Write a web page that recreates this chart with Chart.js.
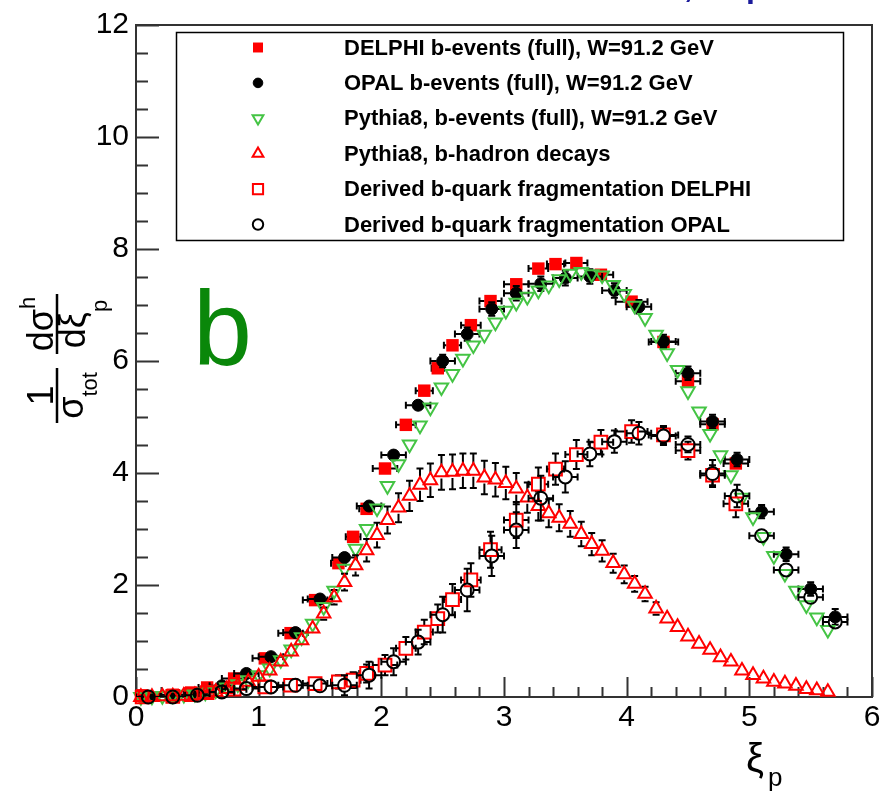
<!DOCTYPE html>
<html>
<head>
<meta charset="utf-8">
<title>xi_p distributions, b events</title>
<script src="https://cdn.jsdelivr.net/npm/chart.js@4.4.1/dist/chart.umd.min.js"></script>
<style>
  html, body { margin: 0; padding: 0; background: #fff; }
  canvas { display: block; }
</style>
</head>
<body>
<canvas id="xiplot" width="890" height="793"></canvas>
<script>
// ---- data ----
const xTickLabels = ['0', '1', '2', '3', '4', '5', '6'];
const yTickLabels = ['0', '2', '4', '6', '8', '10', '12'];

const legendLabels = [
    'DELPHI b-events (full), W=91.2 GeV',
    'OPAL b-events (full), W=91.2 GeV',
    'Pythia8, b-events (full), W=91.2 GeV',
    'Pythia8, b-hadron decays',
    'Derived b-quark fragmentation DELPHI',
    'Derived b-quark fragmentation OPAL'
];

// Pythia8 bin centres
const pythiaX = [0.04, 0.13, 0.215, 0.30, 0.39, 0.48, 0.565, 0.65, 0.74, 0.83,
    0.915, 1.00, 1.09, 1.18, 1.265, 1.35, 1.44, 1.53, 1.615, 1.70,
    1.79, 1.88, 1.965, 2.05, 2.14, 2.23, 2.315, 2.40, 2.49, 2.58,
    2.665, 2.75, 2.84, 2.93, 3.015, 3.10, 3.19, 3.28, 3.365, 3.45,
    3.54, 3.63, 3.715, 3.80, 3.89, 3.98, 4.065, 4.15, 4.24, 4.33,
    4.415, 4.50, 4.59, 4.68, 4.765, 4.85, 4.94, 5.03, 5.115, 5.20,
    5.29, 5.38, 5.465, 5.55, 5.64];
const pythiaFull = [0.00, 0.01, 0.02, 0.03, 0.04, 0.06, 0.08, 0.12, 0.17, 0.23,
    0.30, 0.39, 0.51, 0.66, 0.85, 1.07, 1.31, 1.61, 1.90, 2.29,
    2.65, 3.00, 3.37, 3.77, 4.16, 4.51, 4.85, 5.17, 5.53, 5.77,
    6.04, 6.28, 6.47, 6.69, 6.90, 7.04, 7.15, 7.26, 7.35, 7.46,
    7.56, 7.59, 7.55, 7.53, 7.36, 7.20, 6.99, 6.77, 6.47, 6.14,
    5.84, 5.46, 5.10, 4.70, 4.32, 3.96, 3.56, 3.21, 2.86, 2.52,
    2.20, 1.90, 1.64, 1.42, 1.20];
const pythiaHadron = [0.00, 0.00, 0.01, 0.01, 0.02, 0.03, 0.05, 0.09, 0.14, 0.20,
    0.27, 0.36, 0.47, 0.63, 0.81, 1.01, 1.22, 1.49, 1.78, 2.05,
    2.35, 2.62, 2.89, 3.16, 3.38, 3.59, 3.79, 3.87, 4.01, 4.02,
    4.04, 4.04, 3.92, 3.88, 3.82, 3.72, 3.56, 3.41, 3.28, 3.20,
    3.09, 2.91, 2.73, 2.61, 2.39, 2.19, 2.02, 1.84, 1.58, 1.40,
    1.25, 1.08, 0.95, 0.84, 0.71, 0.63, 0.47, 0.39, 0.33, 0.27,
    0.24, 0.20, 0.14, 0.12, 0.09];
const pythiaHadronErr = [0, 0, 0, 0, 0, 0, 0, 0.01, 0.01, 0.02,
    0.02, 0.03, 0.04, 0.05, 0.06, 0.08, 0.09, 0.11, 0.13, 0.15,
    0.18, 0.20, 0.22, 0.24, 0.26, 0.27, 0.29, 0.30, 0.31, 0.31,
    0.31, 0.31, 0.30, 0.30, 0.29, 0.28, 0.27, 0.26, 0.25, 0.24,
    0.23, 0.22, 0.20, 0.19, 0.17, 0.16, 0.14, 0.13, 0.11, 0.10,
    0.09, 0.08, 0.07, 0.06, 0.05, 0.04, 0.03, 0.03, 0.02, 0.02,
    0.02, 0.01, 0.01, 0.01, 0.01];

// DELPHI bins
const delphiX = [0.05, 0.30, 0.45, 0.58, 0.80, 1.05, 1.26, 1.46, 1.65, 1.77,
    1.88, 2.03, 2.20, 2.35, 2.46, 2.58, 2.73, 2.89, 3.10, 3.28,
    3.42, 3.59, 3.79, 4.04, 4.30, 4.50, 4.70, 4.89];
const delphiXErr = [0.05, 0.10, 0.06, 0.07, 0.10, 0.10, 0.10, 0.10, 0.06, 0.06,
    0.06, 0.10, 0.08, 0.07, 0.05, 0.07, 0.08, 0.09, 0.10, 0.08,
    0.07, 0.09, 0.10, 0.13, 0.12, 0.10, 0.10, 0.10];
const delphiFull = [0.03, 0.04, 0.08, 0.17, 0.33, 0.69, 1.14, 1.73, 2.39, 2.86,
    3.36, 4.08, 4.86, 5.47, 5.87, 6.28, 6.64, 7.07, 7.37, 7.65,
    7.73, 7.75, 7.54, 7.06, 6.34, 5.64, 4.87, 4.17];
const delphiFullErr = [0.01, 0.01, 0.02, 0.03, 0.04, 0.06, 0.07, 0.08, 0.08, 0.08,
    0.09, 0.10, 0.10, 0.10, 0.10, 0.10, 0.10, 0.10, 0.10, 0.10,
    0.10, 0.10, 0.10, 0.10, 0.10, 0.10, 0.10, 0.10];
const delphiFrag = [0.00, 0.01, 0.04, 0.08, 0.14, 0.18, 0.21, 0.24, 0.27, 0.30,
    0.42, 0.57, 0.87, 1.16, 1.40, 1.74, 2.09, 2.63, 3.16, 3.80,
    4.07, 4.33, 4.55, 4.74, 4.68, 4.40, 3.96, 3.45];
const delphiFragErr = [0.01, 0.01, 0.02, 0.04, 0.05, 0.07, 0.08, 0.10, 0.12, 0.14,
    0.16, 0.18, 0.20, 0.22, 0.25, 0.28, 0.30, 0.32, 0.32, 0.30,
    0.28, 0.26, 0.22, 0.20, 0.16, 0.16, 0.18, 0.24];

// OPAL bins
const opalX = [0.1, 0.3, 0.5, 0.7, 0.9, 1.1, 1.3, 1.5, 1.7, 1.9,
    2.1, 2.3, 2.5, 2.7, 2.9, 3.1, 3.3, 3.5, 3.7, 3.9,
    4.1, 4.3, 4.5, 4.7, 4.9, 5.1, 5.3, 5.5, 5.7];
const opalXErr = [0.1, 0.1, 0.1, 0.1, 0.1, 0.1, 0.1, 0.1, 0.1, 0.1,
    0.1, 0.1, 0.1, 0.1, 0.1, 0.1, 0.1, 0.1, 0.1, 0.1,
    0.1, 0.1, 0.1, 0.1, 0.1, 0.1, 0.1, 0.1, 0.1];
const opalFull = [0.01, 0.01, 0.05, 0.20, 0.42, 0.72, 1.15, 1.75, 2.49, 3.41,
    4.32, 5.21, 6.00, 6.48, 6.93, 7.21, 7.38, 7.48, 7.51, 7.26,
    6.97, 6.35, 5.78, 4.92, 4.24, 3.31, 2.55, 1.93, 1.43];
const opalFullErr = [0.01, 0.01, 0.02, 0.03, 0.04, 0.05, 0.06, 0.07, 0.08, 0.09,
    0.10, 0.10, 0.11, 0.12, 0.12, 0.13, 0.13, 0.13, 0.13, 0.13,
    0.12, 0.12, 0.12, 0.12, 0.12, 0.12, 0.12, 0.12, 0.14];
const opalFrag = [0.00, 0.00, 0.03, 0.09, 0.15, 0.18, 0.21, 0.20, 0.21, 0.39,
    0.63, 0.98, 1.47, 1.91, 2.52, 2.98, 3.55, 3.93, 4.34, 4.56,
    4.71, 4.66, 4.51, 3.99, 3.59, 2.88, 2.27, 1.78, 1.34];
const opalFragErr = [0.01, 0.01, 0.02, 0.04, 0.06, 0.08, 0.09, 0.10, 0.18, 0.24,
    0.24, 0.22, 0.32, 0.38, 0.36, 0.32, 0.40, 0.28, 0.22, 0.20,
    0.20, 0.16, 0.14, 0.24, 0.20, 0.10, 0.08, 0.08, 0.10];

// ---- helpers ----
const FONT = '"Liberation Sans", Arial, Helvetica, sans-serif';
Chart.defaults.font.family = FONT;

function points(xs, ys, exs, eys) {
    return xs.map((x, i) => ({
        x: x,
        y: ys[i],
        ex: exs ? exs[i] : 0,
        ey: eys ? eys[i] : 0
    }));
}

function isWhole(v, step) {
    const r = v / step;
    return Math.abs(r - Math.round(r)) < 1e-6;
}

// error bars drawn just before each dataset, ROOT style (gap at marker, end caps)
const errorBars = {
    id: 'errorBars',
    beforeDatasetDraw(chart, args) {
        const ds = chart.data.datasets[args.index];
        if (!ds.errorBars) return;
        const ctx = chart.ctx;
        const xs = chart.scales.x;
        const ys = chart.scales.y;
        const area = chart.chartArea;
        const gap = ds.errGap;
        const cap = 3.5;
        ctx.save();
        ctx.beginPath();
        ctx.rect(area.left, area.top, area.right - area.left, area.bottom - area.top);
        ctx.clip();
        ctx.strokeStyle = '#000';
        ctx.lineWidth = 2;
        ctx.beginPath();
        ds.data.forEach(d => {
            const px = xs.getPixelForValue(d.x);
            const py = ys.getPixelForValue(d.y);
            if (d.ey) {
                const top = ys.getPixelForValue(d.y + d.ey);
                const bot = ys.getPixelForValue(d.y - d.ey);
                if (py - top > gap) {
                    ctx.moveTo(px, py - gap); ctx.lineTo(px, top);
                    ctx.moveTo(px - cap, top); ctx.lineTo(px + cap, top);
                }
                if (bot - py > gap) {
                    ctx.moveTo(px, py + gap); ctx.lineTo(px, bot);
                    ctx.moveTo(px - cap, bot); ctx.lineTo(px + cap, bot);
                }
            }
            if (d.ex) {
                const lo = xs.getPixelForValue(d.x - d.ex);
                const hi = xs.getPixelForValue(d.x + d.ex);
                if (px - lo > gap) {
                    ctx.moveTo(px - gap, py); ctx.lineTo(lo, py);
                    ctx.moveTo(lo, py - cap); ctx.lineTo(lo, py + cap);
                }
                if (hi - px > gap) {
                    ctx.moveTo(px + gap, py); ctx.lineTo(hi, py);
                    ctx.moveTo(hi, py - cap); ctx.lineTo(hi, py + cap);
                }
            }
        });
        ctx.stroke();
        ctx.restore();
    }
};

// frame plus inward ticks, taken from the scales' own ticks
const frameTicks = {
    id: 'frameTicks',
    beforeDatasetsDraw(chart) {
        const ctx = chart.ctx;
        const a = chart.chartArea;
        const xs = chart.scales.x;
        const ys = chart.scales.y;
        ctx.save();
        ctx.strokeStyle = '#333';
        ctx.lineWidth = 2;
        ctx.strokeRect(a.left, a.top, a.right - a.left, a.bottom - a.top);
        ctx.beginPath();
        xs.ticks.forEach(t => {
            const px = Math.round(xs.getPixelForValue(t.value)) + 0.5;
            const len = isWhole(t.value, 1) ? 20 : 10;
            ctx.moveTo(px, a.bottom);
            ctx.lineTo(px, a.bottom - len);
        });
        ys.ticks.forEach(t => {
            const py = Math.round(ys.getPixelForValue(t.value)) + 0.5;
            const len = isWhole(t.value, 2) ? 23 : 12;
            ctx.moveTo(a.left, py);
            ctx.lineTo(a.left + len, py);
        });
        ctx.stroke();
        ctx.restore();
    }
};

function drawYTitle(ctx) {
    const big = '36px ' + FONT;
    const small = '22px ' + FONT;
    ctx.save();
    ctx.translate(57, 423);
    ctx.rotate(-Math.PI / 2);
    ctx.fillStyle = '#000';
    ctx.strokeStyle = '#000';
    ctx.lineWidth = 2.5;
    ctx.textBaseline = 'alphabetic';

    // 1 / sigma_tot
    ctx.beginPath();
    ctx.moveTo(0, 0); ctx.lineTo(55, 0);
    ctx.font = big;
    const w1 = ctx.measureText('1').width;
    ctx.fillText('1', (55 - w1) / 2, -4);
    const wSig = ctx.measureText('σ').width;
    ctx.font = small;
    const wTot = ctx.measureText('tot').width;
    const d1 = (55 - wSig - wTot) / 2;
    ctx.font = big;
    ctx.fillText('σ', d1, 26);
    ctx.font = small;
    ctx.fillText('tot', d1 + wSig, 40);

    // d sigma^h / d xi_p
    const u0 = 69, len = 60;
    ctx.moveTo(u0, 0); ctx.lineTo(u0 + len, 0);
    ctx.stroke();
    ctx.font = big;
    const wNum = ctx.measureText('dσ').width;
    ctx.font = small;
    const wH = ctx.measureText('h').width;
    const n0 = u0 + (len - wNum - wH) / 2;
    ctx.font = big;
    ctx.fillText('dσ', n0, -4);
    ctx.font = small;
    ctx.fillText('h', n0 + wNum, -22);
    ctx.font = big;
    const wDen = ctx.measureText('dξ').width;
    ctx.font = small;
    const wP = ctx.measureText('p').width;
    const m0 = u0 + (len - wDen - wP) / 2;
    ctx.font = big;
    ctx.fillText('dξ', m0, 28);
    ctx.font = small;
    ctx.fillText('p', m0 + wDen, 50);
    ctx.restore();
}

// legend box, labels and extra text
const annotations = {
    id: 'annotations',
    afterDraw(chart) {
        const ctx = chart.ctx;
        ctx.save();

        // cut-off title at the very top
        ctx.fillStyle = '#1b1b9b';
        ctx.font = 'bold 32px ' + FONT;
        ctx.textBaseline = 'alphabetic';
        ctx.fillText(',', 684, -3);
        ctx.fillText('p', 746, -3);

        // legend
        ctx.strokeStyle = '#000';
        ctx.lineWidth = 1.5;
        ctx.strokeRect(176.5, 32.5, 667, 208);
        chart.data.datasets.forEach((ds, i) => {
            const y = 47.5 + i * 35.4;
            ctx.fillStyle = ds.pointBackgroundColor;
            ctx.strokeStyle = ds.pointBorderColor;
            ctx.lineWidth = ds.pointBorderWidth;
            Chart.helpers.drawPoint(ctx, {
                pointStyle: ds.pointStyle,
                radius: ds.pointRadius * 0.8,
                rotation: ds.pointRotation || 0,
                borderWidth: ds.pointBorderWidth
            }, 258, y);
            ctx.fillStyle = '#000';
            ctx.font = 'bold 22px ' + FONT;
            ctx.textBaseline = 'middle';
            ctx.fillText(ds.label, 344, y + 1);
        });

        // panel letter
        ctx.fillStyle = '#0a870a';
        ctx.font = '106px ' + FONT;
        ctx.textBaseline = 'alphabetic';
        ctx.fillText('b', 193, 365);

        // x title
        ctx.fillStyle = '#000';
        ctx.font = '40px ' + FONT;
        ctx.fillText('ξ', 746, 772);
        ctx.font = '26px ' + FONT;
        ctx.fillText('p', 768, 786);

        ctx.restore();
        drawYTitle(ctx);
    }
};

const datasets = [
    {
        label: legendLabels[0],
        data: points(delphiX, delphiFull, delphiXErr, delphiFullErr),
        pointStyle: 'rect', pointRadius: 8.8, pointBorderWidth: 0,
        pointBackgroundColor: '#ff0000', pointBorderColor: '#ff0000',
        errorBars: true, errGap: 6, order: 6
    },
    {
        label: legendLabels[1],
        data: points(opalX, opalFull, opalXErr, opalFullErr),
        pointStyle: 'circle', pointRadius: 6, pointBorderWidth: 1,
        pointBackgroundColor: '#000', pointBorderColor: '#000',
        errorBars: true, errGap: 6, order: 5
    },
    {
        label: legendLabels[2],
        data: points(pythiaX, pythiaFull),
        pointStyle: 'triangle', pointRotation: 180, pointRadius: 7.8, pointBorderWidth: 2,
        pointBackgroundColor: 'rgba(0,0,0,0)', pointBorderColor: '#44c444',
        errorBars: false, order: 4
    },
    {
        label: legendLabels[3],
        data: points(pythiaX, pythiaHadron, null, pythiaHadronErr),
        pointStyle: 'triangle', pointRadius: 7.8, pointBorderWidth: 2,
        pointBackgroundColor: 'rgba(0,0,0,0)', pointBorderColor: '#ff0000',
        errorBars: true, errGap: 6, order: 3
    },
    {
        label: legendLabels[4],
        data: points(delphiX, delphiFrag, delphiXErr, delphiFragErr),
        pointStyle: 'rect', pointRadius: 9, pointBorderWidth: 2,
        pointBackgroundColor: 'rgba(0,0,0,0)', pointBorderColor: '#ff0000',
        errorBars: true, errGap: 6.5, order: 2
    },
    {
        label: legendLabels[5],
        data: points(opalX, opalFrag, opalXErr, opalFragErr),
        pointStyle: 'circle', pointRadius: 6.5, pointBorderWidth: 2,
        pointBackgroundColor: 'rgba(0,0,0,0)', pointBorderColor: '#000',
        errorBars: true, errGap: 6.5, order: 1
    }
];
datasets.forEach(ds => { ds.clip = false; ds.showLine = false; });

new Chart(document.getElementById('xiplot'), {
    type: 'scatter',
    data: { datasets: datasets },
    options: {
        responsive: false,
        animation: false,
        events: [],
        devicePixelRatio: 1,
        layout: { padding: { left: 0, right: 18, top: 22, bottom: 0 } },
        plugins: {
            legend: { display: false },
            tooltip: { enabled: false },
            title: { display: false }
        },
        scales: {
            x: {
                type: 'linear',
                min: 0, max: 6,
                grid: { display: false, drawTicks: false },
                border: { display: false },
                afterFit(scale) { scale.height = 96; },
                ticks: {
                    stepSize: 0.2,
                    autoSkip: false,
                    maxRotation: 0,
                    padding: 3,
                    color: '#000',
                    font: { size: 30, family: FONT },
                    callback: v => isWhole(v, 1) ? xTickLabels[Math.round(v)] : ''
                }
            },
            y: {
                type: 'linear',
                min: 0, max: 12,
                grid: { display: false, drawTicks: false },
                border: { display: false },
                afterFit(scale) { scale.width = 136; },
                ticks: {
                    stepSize: 0.5,
                    autoSkip: false,
                    padding: 7,
                    color: '#000',
                    font: { size: 30, family: FONT },
                    callback: v => isWhole(v, 2) ? yTickLabels[Math.round(v / 2)] : ''
                }
            }
        }
    },
    plugins: [errorBars, frameTicks, annotations]
});
</script>
</body>
</html>
